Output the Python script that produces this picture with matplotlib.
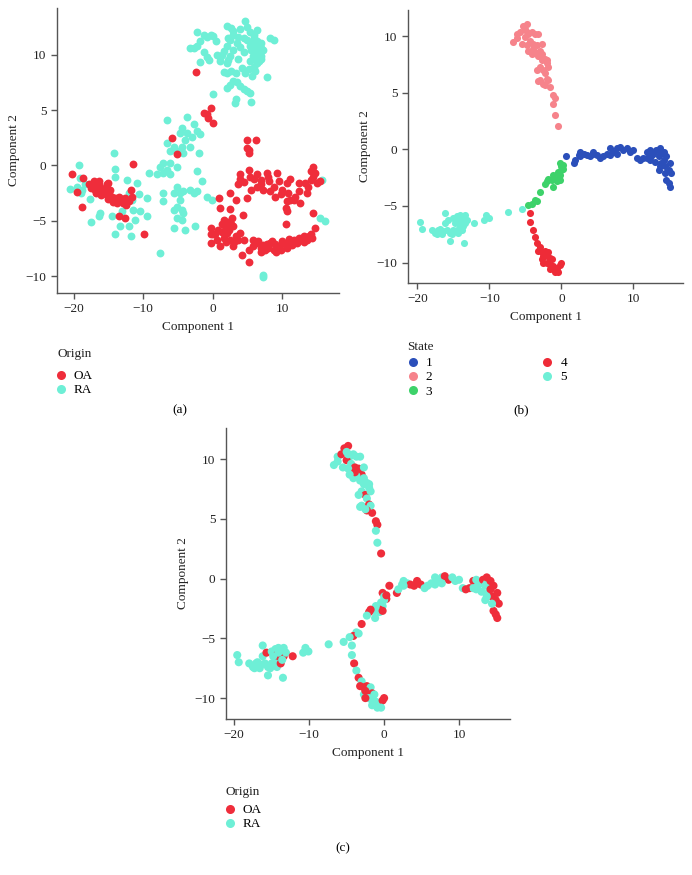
import numpy as np
import matplotlib
matplotlib.use("Agg")
import matplotlib.pyplot as plt
from matplotlib.lines import Line2D

plt.rcParams['font.family'] = ['Liberation Serif', 'DejaVu Serif']

# ---- panel (a): tSNE-like embedding, coloured by origin ----
a_oa = [(-20.2, -0.8), (-19.5, -2.4), (-18.8, -3.7), (-18.6, -1.1), (-17.8, -1.7), (-17.1, -1.4),
        (-16.6, -1.9), (-16.4, -1.4), (-16.2, -2.0), (-15.7, -2.3), (-15.2, -1.7), (-15.4, -2.6),
        (-15.0, -1.6), (-14.7, -2.2), (-14.5, -2.8), (-14.0, -2.9), (-13.5, -2.8), (-13.3, -3.1),
        (-12.6, -2.9), (-12.1, -3.2), (-11.8, -2.2), (-11.6, -2.8), (-11.5, 0.1), (-13.5, -4.6),
        (-12.6, -4.7), (-9.9, -6.2), (-15.9, -2.2), (-16.9, -2.2), (-17.4, -1.7),
        (-17.5, -2.0), (-16.8, -2.5), (-16.0, -2.7), (-15.5, -2.0), (-14.9, -2.6), (-14.3, -3.3),
        (-13.8, -3.4), (-12.9, -3.4), (-12.4, -3.6), (-16.3, -1.7), (-15.0, -3.0),
        (-2.4, 8.4), (-1.2, 4.7), (-0.3, 5.2), (-0.8, 4.6), (-0.6, 4.3), (0.0, 3.8), (-5.8, 2.5),
        (-5.1, 1.0), (4.9, 2.3), (4.9, 1.6), (5.2, 1.4), (5.2, 1.1), (6.3, 2.3),
        (5.2, -0.4), (5.4, -1.0), (4.0, -0.8), (3.7, -1.7), (2.5, -2.5), (3.3, -3.1), (4.9, -2.9),
        (6.4, -0.8), (6.9, -1.3), (7.8, -0.7), (8.1, -1.4), (8.8, -1.9), (7.3, -2.2), (6.4, -1.9),
        (8.3, -2.3), (9.3, -0.7), (9.5, -1.4), (10.0, -2.2), (10.7, -1.6), (10.9, -2.5),
        (11.2, -3.1), (11.9, -2.8), (10.7, -3.2), (10.5, -3.8), (10.7, -4.1), (10.6, -5.3),
        (12.4, -2.3), (12.4, -1.6), (14.1, -0.5), (14.5, -0.1), (14.8, -0.7), (15.0, -1.6),
        (15.5, -1.4), (14.1, -1.3), (13.3, -1.6), (13.6, -2.5), (12.6, -3.4), (11.7, -3.1),
        (3.9, -1.2), (4.5, -1.5), (5.9, -1.2), (5.6, -2.2), (7.0, -1.7), (8.0, -1.0), (9.0, -2.8),
        (9.8, -2.6), (11.2, -1.2), (13.8, -1.9), (14.4, -1.0),
        (1.1, -3.8), (2.5, -3.9), (2.8, -4.7), (-0.3, -5.6), (-0.3, -6.2), (-0.2, -7.0),
        (0.4, -6.2), (0.6, -6.7), (1.1, -7.3), (1.6, -4.9), (1.8, -5.5), (2.1, -6.1), (2.3, -5.8),
        (2.5, -6.7), (3.0, -7.3), (3.3, -6.4), (4.0, -6.1), (3.7, -6.7), (4.4, -4.5), (4.5, -6.7),
        (4.2, -8.1), (5.3, -7.6), (5.3, -8.7), (5.8, -6.7), (6.6, -6.8), (6.9, -7.4), (7.6, -7.6),
        (7.8, -7.1), (8.5, -6.8), (8.8, -7.6), (9.5, -7.3), (10.0, -6.8), (10.7, -7.4),
        (11.2, -7.0), (11.7, -6.7), (12.1, -7.0), (12.6, -6.7), (13.1, -6.4), (13.6, -6.7),
        (14.1, -6.2), (14.3, -6.5), (14.8, -5.6), (14.5, -4.3), (0.9, -2.9), (0.1, -6.2),
        (1.6, -6.5), (2.2, -5.1), (3.0, -5.5),
        (5.8, -7.3), (6.2, -7.0), (7.2, -7.2), (8.0, -7.4), (8.3, -7.0), (9.0, -7.1), (9.8, -7.6),
        (10.4, -7.1), (11.0, -6.6), (11.5, -7.2), (12.4, -6.5), (13.2, -6.9), (13.9, -6.4),
        (7.0, -7.8), (9.2, -7.8), (1.3, -5.3), (0.8, -5.8), (2.0, -6.9), (3.1, -6.9), (1.4, -6.0),
        (2.6, -5.3)]

a_ra = [(-2.3, 12.0), (-1.8, 11.2), (-0.8, 11.6), (-0.3, 11.8), (0.1, 11.7), (-2.7, 10.6),
        (-3.3, 10.6), (-1.3, 10.2), (-0.8, 9.8), (-1.8, 9.3), (-0.5, 9.5), (0.6, 10.0), (1.1, 9.8),
        (1.6, 10.3), (1.1, 9.4), (2.1, 10.8), (2.5, 11.3), (3.0, 11.8), (4.0, 12.3), (4.7, 13.0),
        (4.9, 12.5), (2.1, 12.6), (2.7, 12.4), (5.4, 12.0), (5.9, 11.5), (6.4, 11.2), (5.4, 10.8),
        (4.5, 10.2), (4.0, 10.7), (3.5, 11.0), (3.0, 10.4), (2.5, 9.9), (2.1, 9.2), (1.6, 8.4),
        (2.1, 8.3), (2.7, 8.5), (3.0, 7.6), (2.5, 7.3), (2.1, 7.0), (3.5, 7.5), (4.0, 7.2),
        (4.5, 6.9), (4.9, 6.7), (5.4, 6.5), (5.6, 5.7), (3.3, 6.0), (3.2, 5.6), (7.8, 8.0),
        (8.3, 11.5), (8.8, 11.3), (6.9, 10.6), (6.4, 10.0), (5.9, 9.7), (5.4, 9.4), (5.9, 8.9),
        (6.4, 9.2), (5.2, 8.7), (6.9, 9.9), (7.3, 10.4), (5.9, 10.2), (6.4, 12.2), (6.9, 11.0),
        (4.9, 11.3), (3.7, 9.6), (0.1, 6.4),
        (5.6, 11.0), (6.0, 10.5), (6.3, 10.8), (6.6, 10.3), (5.8, 9.9), (6.2, 9.6), (6.7, 9.4),
        (5.5, 10.4), (6.0, 11.8), (4.5, 11.5), (3.7, 11.6), (3.0, 12.1), (7.0, 9.6), (6.1, 8.5),
        (5.7, 8.1), (4.6, 8.3), (4.2, 8.8), (3.3, 8.3), (2.2, 11.5), (0.5, 11.2), (-1.2, 11.8),
        (-2.2, 10.8), (1.3, 10.0), (2.2, 9.5),
        (-6.6, 4.1), (-3.7, 4.4), (-2.7, 3.7), (-4.4, 3.4), (-4.7, 2.9), (-3.7, 2.9), (-3.0, 2.6),
        (-2.3, 3.1), (-1.8, 2.8), (-3.9, 2.3), (-3.2, 1.7), (-4.4, 1.7), (-5.1, 1.3), (-5.6, 1.7),
        (-6.6, 2.0), (-6.1, 1.3), (-4.2, 1.1), (-2.0, 1.1), (-7.1, 0.2), (-6.1, 0.2), (-7.5, -0.1),
        (-8.0, -0.8), (-7.1, -0.7), (-6.6, -0.4), (-5.1, -0.1), (-6.1, -0.8), (-7.1, -2.5),
        (-7.1, -3.2), (-5.6, -2.5), (-5.1, -1.9), (-4.7, -2.5), (-4.2, -2.3), (-3.2, -2.2),
        (-2.7, -2.5), (-2.3, -2.3), (-2.3, -0.5), (-1.5, -1.4), (-0.8, -2.8), (-0.1, -3.1),
        (-4.7, -3.1), (-5.1, -3.7), (-5.6, -4.0), (-4.4, -4.0), (-4.2, -4.3), (-5.1, -4.7),
        (-4.4, -4.9), (-5.6, -5.6), (-3.9, -5.8), (-2.5, -5.5), (-7.5, -7.9),
        (-20.5, -2.1), (-19.3, 0.0), (-19.1, -1.1), (-19.5, -1.9), (-18.8, -2.2), (-19.0, -2.5),
        (-17.6, -3.0), (-18.3, -1.7), (-17.5, -5.1), (-16.3, -4.6), (-14.5, -4.6), (-14.2, 1.1),
        (-14.0, -0.3), (-14.0, -1.0), (-13.5, -3.1), (-13.3, -2.9), (-12.3, -1.3), (-12.1, -2.5),
        (-13.0, -4.1), (-13.3, -5.5), (-11.6, -3.1), (-10.9, -1.6), (-10.6, -2.6), (-11.4, -4.0),
        (-11.1, -4.9), (-10.4, -4.1), (-9.4, -4.6), (-9.2, -0.7), (-9.4, -2.9), (-11.8, -6.4),
        (-14.0, -6.2), (-12.1, -5.5), (-16.2, -4.3),
        (15.7, -1.3), (15.5, -4.7), (16.2, -5.0), (7.3, -10.1), (7.3, -9.9)]

# ---- panels (b) and (c): pseudotime trajectory, one list per state ----
state1 = [(0.7, -0.6), (1.7, -1.2), (1.9, -0.9), (2.4, -0.5), (2.6, -0.2), (3.1, -0.4), (3.5, -0.5),
          (4.0, -0.6), (4.4, -0.4), (4.9, -0.5), (5.4, -0.8), (5.8, -0.6), (6.3, -0.4), (6.8, -0.5),
          (7.2, -0.2), (7.7, 0.1), (8.1, 0.2), (8.6, -0.1), (9.1, 0.1), (9.5, -0.2), (10.0, -0.1),
          (7.7, -0.4), (6.8, 0.1), (4.4, -0.2), (2.6, -0.6), (11.4, -0.8), (11.9, -0.2), (12.3, -0.1),
          (12.5, -0.6), (12.8, -0.4), (13.2, -0.1), (13.5, -0.6), (13.7, -0.4), (13.9, -1.2),
          (14.2, -0.9), (14.4, -1.5), (14.6, -0.6), (14.9, -1.8), (15.1, -1.2), (15.3, -2.1),
          (14.6, -2.7), (15.1, -3.3), (14.9, -3.0), (13.7, -1.5), (13.0, -1.1), (12.3, -0.9),
          (11.9, -0.8), (10.5, -0.8), (10.9, -0.9), (13.7, 0.1), (14.2, -0.2), (13.5, -1.8),
          (14.4, -2.1)]
state1_origin = ['OA', 'OA', 'RA', 'RA', 'RA', 'RA', 'OA', 'OA', 'OA', 'OA', 'RA', 'RA', 'RA', 'RA',
                 'RA', 'RA', 'OA', 'OA', 'RA', 'RA', 'RA', 'RA', 'RA', 'OA', 'RA', 'OA', 'OA', 'RA',
                 'RA', 'RA', 'OA', 'RA', 'RA', 'RA', 'OA', 'OA', 'OA', 'OA', 'OA', 'OA', 'OA', 'OA',
                 'OA', 'RA', 'RA', 'RA', 'RA', 'RA', 'OA', 'OA', 'OA', 'RA', 'RA']

state2 = [(-6.7, 9.5), (-6.2, 10.2), (-5.7, 10.4), (-5.3, 10.9), (-4.8, 11.1), (-4.6, 10.2),
          (-4.1, 10.4), (-3.7, 10.2), (-3.2, 10.2), (-5.0, 9.9), (-4.4, 9.6), (-3.9, 9.3), (-3.4, 9.2),
          (-4.8, 9.2), (-5.5, 9.3), (-6.2, 9.8), (-3.0, 8.7), (-3.7, 8.6), (-4.1, 8.4), (-3.2, 8.2),
          (-2.7, 7.9), (-2.3, 8.0), (-2.0, 7.6), (-3.0, 7.3), (-2.5, 7.0), (-3.4, 7.0), (-1.8, 7.3),
          (-2.3, 6.7), (-3.0, 6.1), (-2.0, 6.2), (-3.2, 6.0), (-1.6, 5.5), (-1.8, 6.1), (-2.3, 5.7),
          (-1.1, 4.8), (-0.9, 4.5), (-1.1, 4.0), (-0.9, 3.0), (-0.4, 2.1), (-3.9, 8.9), (-4.6, 8.7),
          (-2.7, 9.3), (-2.7, 8.4), (-2.0, 7.9), (-2.5, 5.8), (-4.8, 10.4), (-5.0, 10.6)]
state2_origin = ['RA', 'RA', 'OA', 'OA', 'OA', 'RA', 'RA', 'RA', 'RA', 'OA', 'RA', 'OA', 'OA', 'RA',
                 'RA', 'RA', 'OA', 'RA', 'RA', 'RA', 'RA', 'RA', 'RA', 'RA', 'OA', 'RA', 'RA', 'RA',
                 'RA', 'OA', 'RA', 'OA', 'RA', 'OA', 'OA', 'OA', 'RA', 'RA', 'OA', 'OA', 'RA', 'RA',
                 'RA', 'RA', 'RA', 'RA', 'RA']

state3 = [(-0.2, -1.2), (0.0, -1.5), (0.3, -1.7), (-0.4, -2.0), (-0.2, -2.3), (-0.6, -2.6),
          (-1.1, -2.3), (-1.3, -2.7), (-1.8, -2.6), (-2.0, -2.8), (-2.3, -3.1), (-0.6, -2.8),
          (-0.2, -2.7), (-1.2, -3.3), (-3.0, -3.8), (-3.7, -4.5), (-4.1, -4.8), (-4.6, -4.9),
          (-3.4, -4.6), (0.0, -1.8), (0.3, -1.4)]
state3_origin = ['OA', 'RA', 'OA', 'RA', 'RA', 'OA', 'RA', 'RA', 'OA', 'OA', 'RA', 'RA', 'OA', 'RA',
                 'OA', 'RA', 'OA', 'RA', 'RA', 'RA', 'OA']

state4 = [(-4.3, -5.6), (-4.3, -6.4), (-4.0, -7.1), (-3.7, -7.7), (-3.4, -8.3), (-3.0, -8.6),
          (-3.2, -9.0), (-2.7, -9.1), (-2.3, -9.0), (-2.0, -9.4), (-1.8, -9.1), (-1.6, -9.6),
          (-2.0, -10.0), (-1.6, -10.2), (-1.3, -9.7), (-1.1, -10.3), (-0.6, -10.5), (-0.2, -10.2),
          (0.0, -10.0), (-0.4, -10.8), (-0.9, -10.8), (-1.6, -10.6), (-2.7, -9.7), (-2.5, -10.0),
          (-2.5, -9.4)]
state4_origin = ['RA', 'RA', 'OA', 'RA', 'OA', 'RA', 'OA', 'OA', 'OA', 'OA', 'RA', 'OA', 'RA', 'RA',
                 'RA', 'RA', 'RA', 'OA', 'OA', 'RA', 'RA', 'RA', 'RA', 'OA', 'OA']

state5 = [(-19.6, -6.4), (-19.4, -7.0), (-18.0, -7.1), (-17.5, -7.4), (-17.1, -7.1), (-16.9, -7.0),
          (-16.6, -7.5), (-16.2, -6.5), (-15.9, -7.1), (-15.5, -8.1), (-15.2, -7.5), (-15.0, -7.1),
          (-16.2, -5.6), (-15.7, -6.2), (-15.0, -6.1), (-14.5, -5.9), (-14.3, -6.4), (-14.1, -5.8),
          (-13.8, -6.2), (-13.6, -5.9), (-13.4, -6.5), (-14.1, -6.8), (-14.5, -7.1), (-14.3, -7.4),
          (-13.8, -7.1), (-13.6, -6.8), (-13.1, -6.2), (-12.2, -6.5), (-13.5, -8.3), (-10.8, -6.2),
          (-10.5, -5.8), (-10.1, -6.1), (-7.4, -5.5), (-5.4, -5.3), (-15.5, -7.4), (-16.4, -7.2),
          (-17.3, -7.5), (-14.8, -6.5), (-14.1, -6.2), (-13.4, -5.8)]
state5_origin = ['RA', 'RA', 'RA', 'RA', 'RA', 'RA', 'RA', 'RA', 'RA', 'RA', 'RA', 'RA', 'RA', 'OA',
                 'RA', 'RA', 'OA', 'RA', 'OA', 'RA', 'OA', 'OA', 'RA', 'RA', 'OA', 'RA', 'RA', 'OA',
                 'RA', 'RA', 'RA', 'RA', 'RA', 'RA', 'RA', 'RA', 'RA', 'RA', 'RA', 'RA']

states = ['1', '2', '3', '4', '5']
state_points = [state1, state2, state3, state4, state5]
state_origins = [state1_origin, state2_origin, state3_origin, state4_origin, state5_origin]

origin_colors = {'OA': '#EF2D3B', 'RA': '#6EEFD6'}
state_colors = {'1': '#2B4FBA', '2': '#F6838B', '3': '#3DD26A', '4': '#EE2B37', '5': '#6EEFD6'}

fs = 9.5
W, H = 692, 875
fig = plt.figure(figsize=(W / 100, H / 100), dpi=100)
fig.patch.set_facecolor('white')


def px_axes(l, t, r, b):
    return fig.add_axes([l / W, 1 - b / H, (r - l) / W, (b - t) / H])


def style(ax, xlim, ylim):
    ax.set_xlim(*xlim)
    ax.set_ylim(*ylim)
    for s in ['top', 'right']:
        ax.spines[s].set_visible(False)
    for s in ['left', 'bottom']:
        ax.spines[s].set_color('#555555')
        ax.spines[s].set_linewidth(1.0)
    ax.set_xticks([-20, -10, 0, 10])
    ax.set_yticks([-10, -5, 0, 5, 10])
    ax.set_xticklabels(['\u221220', '\u221210', '0', '10'])
    ax.set_yticklabels(['\u221210', '\u22125', '0', '5', '10'])
    ax.tick_params(colors='#555555', labelcolor='#222222', labelsize=fs, length=4, width=1)
    ax.set_xlabel('Component 1', fontsize=fs, color='#222222', labelpad=4)
    ax.set_ylabel('Component 2', fontsize=fs, color='#222222', labelpad=4)


def legend(title, labels, colors, x_title, y_title, x_box, y_box, ncol=1, colsp=2.0):
    fig.text(x_title / W, 1 - y_title / H, title, fontsize=fs, color='#222222', va='center', ha='left')
    handles = [Line2D([], [], ls='', marker='o', ms=6.5, mew=0, color=c) for c in colors]
    fig.legend(handles, labels, loc='upper left', bbox_to_anchor=(x_box / W, 1 - y_box / H),
               frameon=False, fontsize=fs, ncol=ncol, handlelength=1.0, handletextpad=0.5,
               labelspacing=0.15, borderpad=0, borderaxespad=0, columnspacing=colsp)


# (a)
ax_a = px_axes(57, 8, 339, 293)
for org, pts in [('RA', a_ra), ('OA', a_oa)]:
    xs, ys = zip(*pts)
    ax_a.scatter(xs, ys, s=32, color=origin_colors[org], linewidths=0, zorder=3)
style(ax_a, (-22.4, 18.2), (-11.5, 14.2))
legend('Origin', ['OA', 'RA'], [origin_colors['OA'], origin_colors['RA']], 57, 354, 54, 370)
fig.text(180 / W, 1 - 410 / H, '(a)', fontsize=fs, ha='center', va='center')

# (b)
ax_b = px_axes(408, 10, 683, 283)
for st, pts in zip(states, state_points):
    xs, ys = zip(*pts)
    ax_b.scatter(xs, ys, s=26, color=state_colors[st], linewidths=0, zorder=3)
style(ax_b, (-21.3, 16.9), (-11.8, 12.3))
legend('State', states, [state_colors[s] for s in states], 407, 347, 406, 357, ncol=2, colsp=8.2)
fig.text(521 / W, 1 - 410 / H, '(b)', fontsize=fs, ha='center', va='center')

# (c)
ax_c = px_axes(226, 428, 510, 719)
all_pts = [p for pts in state_points for p in pts]
all_org = [o for orgs in state_origins for o in orgs]
xs, ys = zip(*all_pts)
ax_c.scatter(xs, ys, s=34, c=[origin_colors[o] for o in all_org], linewidths=0, zorder=3)
style(ax_c, (-21.1, 16.8), (-11.75, 12.6))
legend('Origin', ['OA', 'RA'], [origin_colors['OA'], origin_colors['RA']], 226, 792, 223, 804)
fig.text(343 / W, 1 - 848 / H, '(c)', fontsize=fs, ha='center', va='center')

fig.savefig('out.png', dpi=100, facecolor='white')
